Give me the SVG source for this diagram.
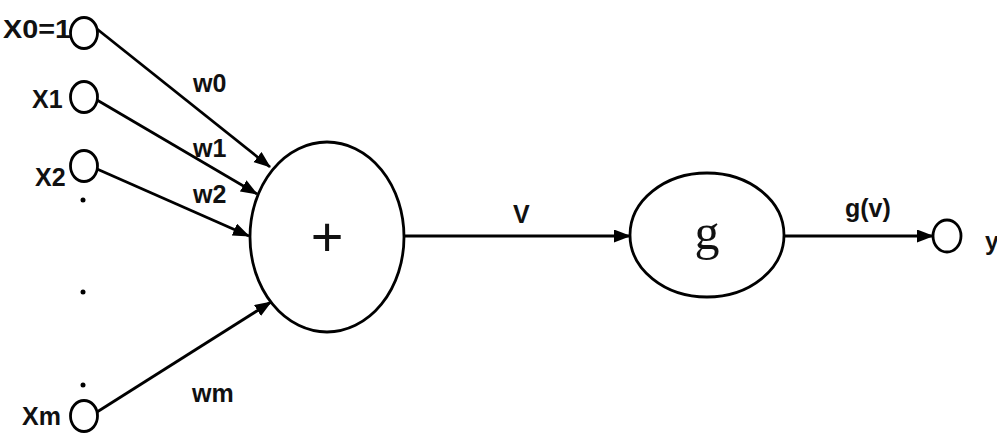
<svg xmlns="http://www.w3.org/2000/svg" width="997" height="435" viewBox="0 0 997 435">
<defs>
<marker id="ah" markerUnits="userSpaceOnUse" markerWidth="18" markerHeight="14" refX="16" refY="6.5" orient="auto">
<path d="M0,0 L17,6.5 L0,13 z" fill="#000"/>
</marker>
<style>
.n{fill:#fff;stroke:#000;stroke-width:2.8}
.e{fill:none;stroke:#000;stroke-width:2.8;marker-end:url(#ah)}
.t{font-family:"Liberation Sans",Arial,sans-serif;font-weight:bold;font-size:25px;fill:#111}
.s{font-family:"Liberation Serif","Times New Roman",serif;fill:#111}
</style>
</defs>
<rect width="997" height="435" fill="#fff"/>
<g id="connectors">
<line class="e" x1="97" y1="29" x2="270" y2="167"/>
<line class="e" x1="97" y1="100" x2="257" y2="194"/>
<line class="e" x1="97" y1="169" x2="249" y2="236"/>
<line class="e" x1="97" y1="412" x2="271" y2="302"/>
<line class="e" x1="404" y1="236" x2="630" y2="236"/>
<line class="e" x1="784" y1="236" x2="933" y2="236"/>
<text class="t" x="193" y="92">w0</text>
<text class="t" x="193" y="157">w1</text>
<text class="t" x="193" y="203">w2</text>
<text class="t" x="192" y="402">wm</text>
<text class="t" x="513" y="223">V</text>
<text class="t" x="845" y="217" font-size="23">g(v)</text>
</g>
<g id="x0"><ellipse class="n" cx="84" cy="33" rx="13.5" ry="15.5"/><text class="t" x="3" y="38" textLength="68" lengthAdjust="spacingAndGlyphs">X0=1</text></g>
<g id="x1"><ellipse class="n" cx="84" cy="97" rx="13.5" ry="15.5"/><text class="t" x="32" y="108">X1</text></g>
<g id="x2"><ellipse class="n" cx="84" cy="166" rx="13.5" ry="15.5"/><text class="t" x="35" y="186">X2</text></g>
<g id="dots"><circle cx="83" cy="200" r="2.5" fill="#000"/><circle cx="83" cy="292" r="2.5" fill="#000"/><circle cx="83" cy="385" r="2.5" fill="#000"/></g>
<g id="xm"><ellipse class="n" cx="84" cy="416" rx="13.5" ry="15.5"/><text class="t" x="22" y="425">Xm</text></g>
<g id="sum"><ellipse class="n" cx="327" cy="237" rx="77" ry="95"/><text x="327" y="256" font-family="Liberation Sans, Arial, sans-serif" font-size="56" text-anchor="middle" fill="#111">+</text></g>
<g id="g"><ellipse class="n" cx="707" cy="235" rx="77" ry="62"/><text class="s" x="707" y="249" font-size="50" text-anchor="middle">g</text></g>
<g id="y"><ellipse class="n" cx="947" cy="236" rx="14" ry="16"/><text class="t" x="985" y="250">y</text></g>
</svg>
